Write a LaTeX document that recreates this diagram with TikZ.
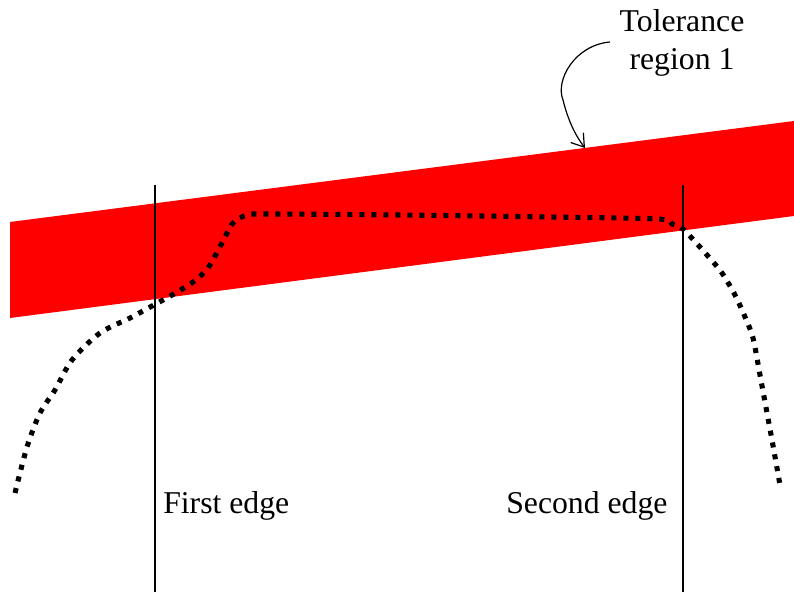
\documentclass[tikz,border=0pt]{standalone}
\usepackage{fontspec}
\setmainfont{Liberation Serif}
\usetikzlibrary{arrows.meta}
\tikzset{
  band/.style={fill={rgb,255:red,255;green,0;blue,0}, draw=none},
  edgeline/.style={line width=1.1pt, black},
  profile/.style={line width=3.8pt, black, dash pattern=on 3.8pt off 5.2pt},
  lbl/.style={font=\fontsize{23.8}{28.5}\selectfont, inner sep=0pt, align=center},
  pointer/.style={line width=0.9pt, -{Straight Barb[length=9pt,width=12pt]}}
}
\begin{document}
\begin{tikzpicture}[x=0.75pt,y=-0.75pt]
\useasboundingbox (0,0) rectangle (794,592);
% tolerance band
\fill[band] (10,222) -- (794,121) -- (794,216) -- (10,318) -- cycle;
% edges
\coordinate (e1t) at (155,185);
\coordinate (e1b) at (155,592);
\coordinate (e2t) at (683,185);
\coordinate (e2b) at (683,592);
\draw[edgeline] (e1t) -- (e1b);
\draw[edgeline] (e2t) -- (e2b);
% profile
\draw[profile] plot[smooth, tension=0.5] coordinates {
 (15,493) (27,447) (40,413) (55,390) (72,360) (100,333) (130,318) (152,306)
 (172,295) (193,282) (208,268) (222,243) (233,223) (247,215) (267,214)
 (400,215) (550,217) (658,219) (672,224) (683,229) (707,255) (722,273)
 (735,295) (745,317) (753,338) (760,375) (767,413) (772,440) (780,485)};
% labels
\node[lbl, anchor=base] (tol) at (682,70) {Tolerance\\region 1};
\node[lbl, anchor=base west] (first) at (163,513) {First edge};
\node[lbl, anchor=base west] (second) at (506,513) {Second edge};
% pointer
\coordinate (ps) at (610,42);
\coordinate (pe) at (585,148);
\draw[pointer] (ps) .. controls (575,45) and (555,80) .. (563,100) .. controls (568,120) and (575,135) .. (pe);
\end{tikzpicture}
\end{document}
